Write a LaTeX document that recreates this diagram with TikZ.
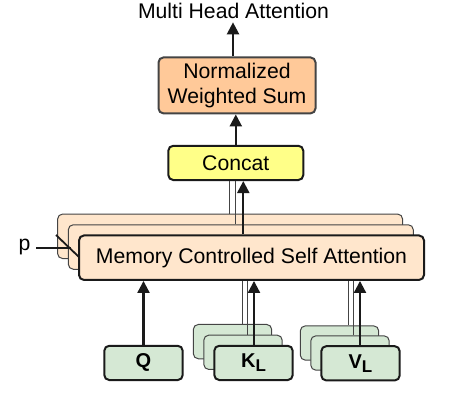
\documentclass[tikz,border=0pt]{standalone}
\usepackage{fontspec}
\setmainfont{Liberation Sans}
\usetikzlibrary{arrows.meta,calc}
\definecolor{nwsfill}{HTML}{FFC999}
\definecolor{catfill}{HTML}{FFFF88}
\definecolor{mcfill}{HTML}{FFE6CC}
\definecolor{grfill}{HTML}{D5E8D4}
\definecolor{edge}{HTML}{1A1A1A}
\definecolor{softedge}{HTML}{444444}
\begin{document}
\begin{tikzpicture}[x=1pt,y=-1pt,
  lbl/.style={font=\fontsize{21.2}{25}\selectfont},
  frontbox/.style={draw=edge, line width=2pt, rounded corners=5pt, inner sep=0pt, align=center},
  backbox/.style={draw=softedge, line width=1pt, rounded corners=5pt, inner sep=0pt},
  mcbox/.style={minimum width=345pt, minimum height=44.5pt},
  inbox/.style={fill=grfill, minimum width=78.4pt, minimum height=34.3pt, font=\fontsize{20}{22}\selectfont\bfseries},
  arr/.style={-{Triangle[length=12pt,width=12pt]}, line width=2.2pt, edge},
  thin/.style={line width=0.9pt, softedge}
]
\useasboundingbox (0,0) rectangle (460,416);

% title and top boxes
\node[lbl] (title) at (233.5,11) {Multi Head Attention};
\node[frontbox, draw=softedge, fill=nwsfill, minimum width=157pt, minimum height=56pt, font=\fontsize{21.2}{25}\selectfont] (nws) at (237,85.4) {Normalized\\Weighted Sum};
\node[frontbox, fill=catfill, minimum width=135pt, minimum height=34.3pt, lbl] (cat) at (235.8,162.9) {Concat};

% memory controlled self attention stack
\node[backbox, fill=mcfill, mcbox] (mb) at (230.1,236.3) {};
\node[backbox, fill=mcfill, mcbox] (mm) at (240.8,247) {};
\coordinate (pp) at (36,247.7);
\node[lbl, anchor=east] (plbl) at (34,247) {p};
\draw[line width=1.8pt, edge] (pp) -- (71,247.7);
\draw[line width=1.8pt, edge] (56,235) -- (80,258);
\node[frontbox, fill=mcfill, mcbox, lbl] (mf) at (251.5,257.7) {Memory Controlled Self Attention};

% inputs
\node[frontbox, inbox] (q) at (143.5,362.9) {Q};
\node[backbox, inbox] (kb) at (232.5,341.6) {};
\node[backbox, inbox] (km) at (243,352.3) {};
\node[frontbox, inbox] (kf) at (253.5,362.9) {K\raisebox{-4pt}{\fontsize{17}{18}\selectfont L}};
\node[backbox, inbox] (vb) at (339.5,343) {};
\node[backbox, inbox] (vm) at (350,353) {};
\node[frontbox, inbox] (vf) at (360.5,363.3) {V\raisebox{-4pt}{\fontsize{17}{18}\selectfont L}};

% connectors top
\draw[arr] ([xshift=-4pt]nws.north) -- ([xshift=-4pt]nws.north |- title.south);
\draw[arr] (cat.north) -- (cat.north |- nws.south);
\draw[arr] ([xshift=-8.2pt]mf.north) -- ([xshift=-8.2pt]mf.north |- cat.south);
\draw[thin] ([xshift=-0.8pt]mb.north) -- ([xshift=-0.8pt]mb.north |- cat.south);
\draw[thin] ([xshift=-5.5pt]mm.north) -- ([xshift=-5.5pt]mm.north |- cat.south);

% connectors bottom
\draw[arr] (q.north) -- (q.north |- mf.south);
\draw[thin] ([xshift=9.8pt]kb.north) -- ([xshift=9.8pt]kb.north |- mf.south);
\draw[thin] ([xshift=4.7pt]km.north) -- ([xshift=4.7pt]km.north |- mf.south);
\draw[arr] ([xshift=0.5pt]kf.north) -- ([xshift=0.5pt]kf.north |- mf.south);
\draw[thin] ([xshift=8.8pt]vb.north) -- ([xshift=8.8pt]vb.north |- mf.south);
\draw[thin] ([xshift=3.3pt]vm.north) -- ([xshift=3.3pt]vm.north |- mf.south);
\draw[arr] ([xshift=-0.5pt]vf.north) -- ([xshift=-0.5pt]vf.north |- mf.south);
\end{tikzpicture}
\end{document}
